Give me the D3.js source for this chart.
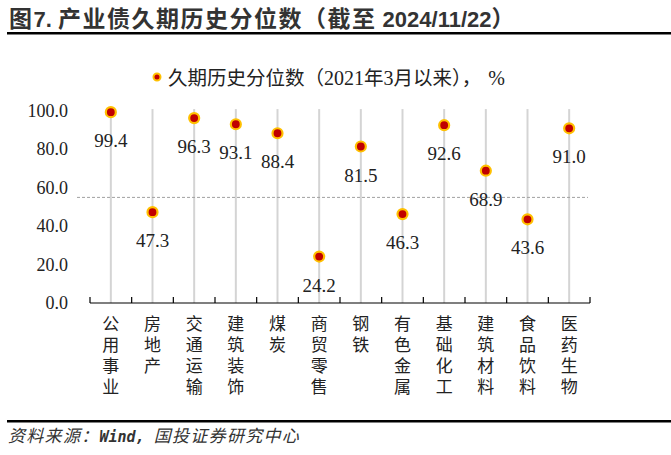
<!DOCTYPE html>
<html>
<head>
<meta charset="utf-8">
<script src="https://cdn.jsdelivr.net/npm/d3@7"></script>
<style>
  body { margin: 0; background: #fff; }
  svg { display: block; }
</style>
</head>
<body>
<svg width="671" height="455"></svg>
<script>
var categories = ["公用事业", "房地产", "交通运输", "建筑装饰", "煤炭", "商贸零售",
                  "钢铁", "有色金属", "基础化工", "建筑材料", "食品饮料", "医药生物"];
var values = [99.4, 47.3, 96.3, 93.1, 88.4, 24.2, 81.5, 46.3, 92.6, 68.9, 43.6, 91.0];
var yTicks = [0, 20, 40, 60, 80, 100];
var refLine = 55;

var svg = d3.select("svg"),
    width = +svg.attr("width"),
    height = +svg.attr("height");

var serif = "'Liberation Serif', 'Times New Roman', serif";
var cjk = "'Noto Sans CJK SC', sans-serif";
var sans = "'Liberation Sans', Arial, sans-serif";

// title + rules
var title = svg.append("text")
    .attr("x", 9).attr("y", 27)
    .attr("font-weight", "bold").attr("fill", "#333");
title.append("tspan").attr("font-family", cjk).attr("font-size", 23).attr("letter-spacing", 1.5).text("图");
title.append("tspan").attr("font-family", sans).attr("font-size", 22).text("7. ");
title.append("tspan").attr("font-family", cjk).attr("font-size", 23).attr("letter-spacing", 1.5).text("产业债久期历史分位数（截至");
title.append("tspan").attr("font-family", sans).attr("font-size", 22).text(" 2024/11/22");
title.append("tspan").attr("font-family", cjk).attr("font-size", 23).text("）");

svg.append("rect").attr("x", 7).attr("y", 32).attr("width", width - 7).attr("height", 2.5).attr("fill", "#000");
svg.append("rect").attr("x", 7).attr("y", 420).attr("width", width - 7).attr("height", 2.5).attr("fill", "#000");

var foot = svg.append("text")
    .attr("x", 8).attr("y", 442)
    .attr("font-style", "italic").attr("fill", "#333");
foot.append("tspan").attr("font-family", cjk).attr("font-size", 17).attr("letter-spacing", 1.3).text("资料来源：");
foot.append("tspan").attr("font-family", "'DejaVu Sans Mono', monospace").attr("font-size", 15).attr("font-weight", "bold").text("Wind, ");
foot.append("tspan").attr("font-family", cjk).attr("font-size", 17).attr("letter-spacing", 1.3).text("国投证券研究中心");

var x = d3.scaleBand().domain(categories).range([90, 590]);
var y = d3.scaleLinear().domain([0, 100]).range([303, 111]);

// vertical grid lines at category centres
svg.selectAll(".grid")
  .data(categories)
  .enter()
  .append("line")
    .attr("x1", function(d) { return x(d) + x.bandwidth() / 2; })
    .attr("x2", function(d) { return x(d) + x.bandwidth() / 2; })
    .attr("y1", y(101))
    .attr("y2", y(0))
    .attr("stroke", "#d4d4d4")
    .attr("stroke-width", 2);

// dashed reference line
svg.append("line")
    .attr("x1", 77).attr("x2", 588)
    .attr("y1", y(refLine)).attr("y2", y(refLine))
    .attr("stroke", "#a0a0a0").attr("stroke-width", 1)
    .attr("stroke-dasharray", "3,2");

// y axis labels
svg.selectAll(".ytick")
  .data(yTicks)
  .enter()
  .append("text")
    .attr("x", 68)
    .attr("y", function(d) { return y(d) + 6; })
    .attr("text-anchor", "end")
    .attr("font-family", serif).attr("font-size", 18).attr("fill", "#222")
    .text(function(d) { return d.toFixed(1); });

// x axis baseline with inward ticks at band edges
svg.append("line")
    .attr("x1", 90).attr("x2", 590)
    .attr("y1", y(0)).attr("y2", y(0))
    .attr("stroke", "#000").attr("stroke-width", 1.2);
var edges = categories.map(function(d) { return x(d); }).concat([590]);
svg.selectAll(".xtick")
  .data(edges)
  .enter()
  .append("line")
    .attr("x1", function(d) { return d; })
    .attr("x2", function(d) { return d; })
    .attr("y1", y(0) - 6).attr("y2", y(0))
    .attr("stroke", "#000").attr("stroke-width", 1.2);

// vertical category labels, one character per line
var chars = [];
categories.forEach(function(c) {
  c.split("").forEach(function(ch, i) { chars.push({ cat: c, c: ch, i: i }); });
});
svg.selectAll(".cat")
  .data(chars)
  .enter()
  .append("text")
    .attr("x", function(d) { return x(d.cat) + x.bandwidth() / 2; })
    .attr("y", function(d) { return 330 + d.i * 21; })
    .attr("text-anchor", "middle")
    .attr("font-family", cjk).attr("font-size", 17).attr("fill", "#222")
    .text(function(d) { return d.c; });

// points
var pts = categories.map(function(c, i) { return { cat: c, v: values[i] }; });
svg.selectAll(".pt")
  .data(pts)
  .enter()
  .append("circle")
    .attr("cx", function(d) { return x(d.cat) + x.bandwidth() / 2; })
    .attr("cy", function(d) { return y(d.v); })
    .attr("r", 5)
    .attr("fill", "#c00000")
    .attr("stroke", "#ffc000")
    .attr("stroke-width", 2.2);

// value labels
svg.selectAll(".lbl")
  .data(pts)
  .enter()
  .append("text")
    .attr("x", function(d) { return x(d.cat) + x.bandwidth() / 2; })
    .attr("y", function(d) { return y(d.v) + 35; })
    .attr("text-anchor", "middle")
    .attr("font-family", serif).attr("font-size", 19).attr("fill", "#222")
    .text(function(d) { return d.v.toFixed(1); });

// legend
svg.append("circle")
    .attr("cx", 157).attr("cy", 77).attr("r", 3.5)
    .attr("fill", "#c00000").attr("stroke", "#ffc000").attr("stroke-width", 2);
var leg = svg.append("text")
    .attr("x", 168).attr("y", 85)
    .attr("fill", "#222");
leg.append("tspan").attr("font-family", cjk).attr("font-size", 19.5).text("久期历史分位数（");
leg.append("tspan").attr("font-family", serif).attr("font-size", 20).text("2021");
leg.append("tspan").attr("font-family", cjk).attr("font-size", 19.5).text("年");
leg.append("tspan").attr("font-family", serif).attr("font-size", 20).text("3");
leg.append("tspan").attr("font-family", cjk).attr("font-size", 19.5).text("月以来），");
leg.append("tspan").attr("font-family", serif).attr("font-size", 20).attr("dx", 7).text("%");
</script>
</body>
</html>
